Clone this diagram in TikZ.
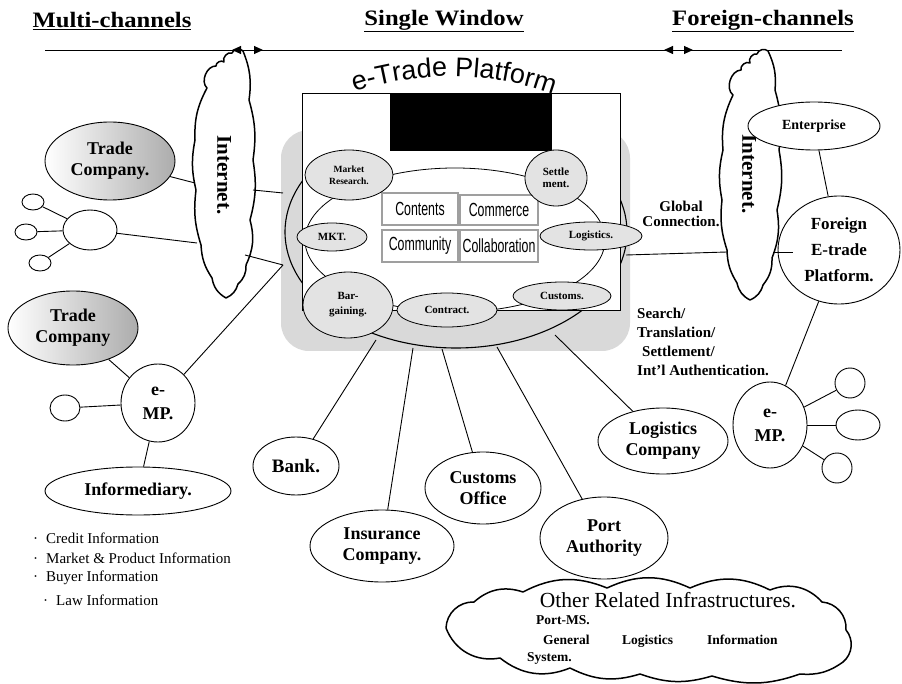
\documentclass[tikz,border=0pt]{standalone}
\usepackage{fontspec}
\usepackage{graphicx}
\setmainfont{Liberation Serif}
\newfontfamily\arialf{Liberation Sans}
\usetikzlibrary{shapes.geometric,arrows.meta,decorations.text}
\begin{document}
\begin{tikzpicture}[x=1pt,y=-1pt,
  oval/.style={draw, ellipse, line width=0.9pt, inner sep=0pt, fill=white, align=center, font=\bfseries\fontsize{18}{21}\selectfont},
  ringov/.style={oval, fill=gray!22, line width=0.8pt, font=\bfseries\fontsize{11}{12}\selectfont},
  shadeov/.style={oval, left color=white, middle color=white, right color=gray!65},
  small/.style={draw, ellipse, line width=0.9pt, inner sep=0pt, fill=white},
  conn/.style={line width=0.9pt},
  cloudline/.style={line width=1.5pt, fill=white, line join=round},
  hdr/.style={font=\bfseries\fontsize{22}{24}\selectfont},
  cbox/.style={draw=gray!75, line width=1.2pt, inner sep=0pt, fill=white, font=\arialf\fontsize{19}{19}\selectfont},
  blist/.style={anchor=west, inner sep=0pt, font=\fontsize{15}{15}\selectfont},
  infra/.style={anchor=base west, inner sep=0pt, font=\bfseries\fontsize{13.5}{14}\selectfont},
  tip/.style={{Triangle[length=9pt,width=8pt]}-{Triangle[length=9pt,width=8pt]}},
]
\useasboundingbox (0,0) rectangle (902,684);
\fill[white] (0,0) rectangle (902,684);

% headers
\node[hdr] (h1) at (112,21) {\scalebox{1.12}[1]{\underline{Multi-channels}}};
\node[hdr] (h2) at (444,21) {\scalebox{1.12}[1]{\underline{Single Window}}};
\node[hdr] (h3) at (763,21) {\scalebox{1.12}[1]{\underline{Foreign-channels}}};

% top line
\coordinate (tl) at (45,50);
\coordinate (tr) at (842,50);
\draw[conn] (tl) -- (tr);

% left Internet cloud
\draw[cloudline] (207,88) to[bend left=70] (216,66) to[bend left=70] (224,62) to[bend left=70] (232,53) to[bend left=60] (243,51) to[bend left=15] (249,100) to[bend left=12] (253,160) to[bend left=12] (250,220) to[bend left=20] (246,265) to[bend left=25] (238,284) to[bend left=25] (226,298) to[bend left=25] (212,278) to[bend left=15] (201,245) to[bend left=12] (196,190) to[bend left=12] (195,140) to[bend left=15] (207,88) -- cycle;
\node[rotate=-90, font=\bfseries\fontsize{21}{21}\selectfont] (inet1) at (224,175) {Internet.};

% right Internet cloud
\draw[cloudline] (733,95) to[bend left=70] (741,70) to[bend left=70] (750,63) to[bend left=70] (757,54) to[bend left=60] (768,51) to[bend left=15] (775,90) to[bend left=12] (779,150) to[bend left=12] (777,210) to[bend left=15] (772,258) to[bend left=20] (763,285) to[bend left=25] (750,300) to[bend left=25] (737,283) to[bend left=15] (727,250) to[bend left=12] (722,200) to[bend left=12] (723,150) to[bend left=15] (733,95) -- cycle;
\node[rotate=-90, font=\bfseries\fontsize{21}{21}\selectfont] (inet2) at (749,174) {Internet.};

% arrowheads on the top line
\coordinate (a1) at (232,50); \coordinate (a2) at (263,50);
\coordinate (a3) at (664,50); \coordinate (a4) at (693,50);
\draw[conn, tip] (a1) -- (a2);
\draw[conn, tip] (a3) -- (a4);

% e-Trade platform
\fill[gray!30, rounded corners=28] (281,130) rectangle (630,351);
\draw[line width=1.1pt] (456,232) ellipse [x radius=171, y radius=116];
\node[draw, line width=0.8pt, fill=white, anchor=north west, minimum width=318, minimum height=217, inner sep=0pt] (plat) at (302,93) {};
\fill (390,93) rectangle (552,151);
\draw[line width=0.8pt] (455,240) ellipse [x radius=150, y radius=72];
\path[decorate, decoration={text along path, text align=center, text={|\arialf\fontsize{27}{27}\selectfont|e-Trade Platform}}] (331,100) .. controls (410,68) and (500,68) .. (576,104);

\node[cbox, minimum width=76, minimum height=32] (cnt) at (420,209) {\scalebox{0.65}[1]{Contents}};
\node[cbox, minimum width=78, minimum height=30] (cmm) at (499,210) {\scalebox{0.65}[1]{Commerce}};
\node[cbox, minimum width=76, minimum height=32] (cmy) at (420,246) {\scalebox{0.65}[1]{Community}};
\node[cbox, minimum width=78, minimum height=32] (col) at (499,246) {\scalebox{0.65}[1]{Collaboration}};

\node[ringov, minimum width=88, minimum height=50, font=\bfseries\fontsize{9.5}{12}\selectfont] (mr) at (349,175) {Market\\Research.};
\node[ringov, minimum width=62, minimum height=56] (st) at (556,178) {Settle\\ment.};
\node[ringov, minimum width=70, minimum height=28] (mkt) at (332,237) {MKT.};
\node[ringov, minimum width=102, minimum height=28] (lg) at (591,236) {Logistics.};
\node[ringov, minimum width=90, minimum height=66, font=\bfseries\fontsize{11}{15}\selectfont] (bg) at (348,305) {Bar-\\gaining.};
\node[ringov, minimum width=100, minimum height=34] (ct) at (447,310) {Contract.};
\node[ringov, minimum width=98, minimum height=28] (cs) at (562,296) {Customs.};

% left side
\node[shadeov, minimum width=130, minimum height=78] (tc1) at (110,161) {Trade\\Company.};
\node[small, minimum width=54, minimum height=40] (hub) at (90,230) {};
\node[small, minimum width=22, minimum height=16] (s1) at (33,202) {};
\node[small, minimum width=22, minimum height=16] (s2) at (26,232) {};
\node[small, minimum width=22, minimum height=16] (s3) at (40,263) {};
\node[shadeov, minimum width=130, minimum height=74] (tc2) at (73,328) {Trade\\Company};
\node[oval, minimum width=74, minimum height=78, font=\bfseries\fontsize{18}{24}\selectfont] (emp1) at (158,403) {e-\\MP.};
\node[small, minimum width=30, minimum height=26] (s4) at (65,408) {};
\node[oval, minimum width=186, minimum height=48] (info) at (138,491) {Informediary.};

\node[blist] (l1) at (33,538) {·\hspace{8pt}Credit Information};
\node[blist] (l2) at (33,558) {·\hspace{8pt}Market \& Product Information};
\node[blist] (l3) at (33,578) {·\hspace{8pt}Buyer Information};
\node[blist] (l4) at (43,600) {·\hspace{8pt}Law Information};

% right side
\node[oval, font=\bfseries\fontsize{14}{16}\selectfont, minimum width=132, minimum height=48] (ent) at (814,126) {Enterprise};
\node[oval, font=\bfseries\fontsize{17}{26}\selectfont, minimum width=122, minimum height=108] (fep) at (839,250) {Foreign\\E-trade\\Platform.};
\node[oval, minimum width=74, minimum height=86, font=\bfseries\fontsize{18}{24}\selectfont] (emp2) at (770,425) {e-\\MP.};
\node[small, minimum width=30, minimum height=30] (r1) at (850,383) {};
\node[small, minimum width=44, minimum height=30] (r2) at (858,425) {};
\node[small, minimum width=30, minimum height=30] (r3) at (837,468) {};

\node[font=\bfseries\fontsize{15}{15}\selectfont, align=center, inner sep=0pt] (gc) at (681,214) {Global\\Connection.};
\node[anchor=north west, align=left, inner sep=0pt, font=\bfseries\fontsize{15}{19}\selectfont] (srch) at (637,308) {Search/\\Translation/\\\hspace*{5pt}Settlement/\\Int'l Authentication.};

% other infrastructures cloud (drawn before the bottom ovals)
\draw[cloudline] (446,628) to[bend left=45] (474,602) to[bend left=30] (523,592) to[bend left=25] (607,588) to[bend left=25] (690,588) to[bend left=25] (770,590) to[bend left=35] (822,602) to[bend left=45] (846,630) to[bend left=45] (843,662) to[bend left=20] (800,674) to[bend left=18] (712,676) to[bend left=18] (640,674) to[bend left=22] (570,668) to[bend left=30] (500,658) to[bend left=40] (446,628) -- cycle;
\node[font=\fontsize{21.5}{21.5}\selectfont, inner sep=0pt, anchor=base] (ori) at (668,607) {Other Related Infrastructures.};
\node[infra] (pms) at (536,624) {Port-MS.};
\node[infra] (gen) at (543,644) {General};
\node[infra] (lgs) at (622,644) {Logistics};
\node[infra] (inf) at (707,644) {Information};
\node[infra] (sys) at (527,661) {System.};

% bottom
\node[oval, minimum width=86, minimum height=58, font=\bfseries\fontsize{19}{21}\selectfont] (bank) at (296,466) {Bank.};
\node[oval, minimum width=144, minimum height=72] (ins) at (382,546) {Insurance\\Company.};
\node[oval, minimum width=116, minimum height=72] (cus) at (483,488) {Customs\\Office};
\node[oval, minimum width=128, minimum height=82] (port) at (604,538) {Port\\Authority};
\node[oval, minimum width=130, minimum height=66] (logc) at (663,441) {Logistics\\Company};

% connectors
\coordinate (ci1) at (195,183);
\coordinate (ci2) at (197,243);
\coordinate (p1a) at (253,190); \coordinate (p1b) at (283,193);
\coordinate (p2a) at (245,255); \coordinate (p2b) at (283,265);
\coordinate (g1) at (626,255); \coordinate (g2) at (727,252);
\coordinate (f1) at (773,252); \coordinate (f2) at (793,252);
\coordinate (b1) at (376,340);
\coordinate (b2) at (413,348);
\coordinate (b3) at (442,349);
\coordinate (b4) at (497,347);
\coordinate (b5) at (555,335);

\draw[conn] (tc1) -- (ci1);
\draw[conn] (hub) -- (ci2);
\draw[conn] (hub) -- (s1);
\draw[conn] (hub) -- (s2);
\draw[conn] (hub) -- (s3);
\draw[conn] (p1a) -- (p1b);
\draw[conn] (p2a) -- (p2b);
\draw[conn] (p2b) -- (emp1);
\draw[conn] (tc2) -- (emp1);
\draw[conn] (s4) -- (emp1);
\draw[conn] (emp1) -- (info);
\draw[conn] (ent) -- (fep);
\draw[conn] (fep) -- (emp2);
\draw[conn] (emp2) -- (r1);
\draw[conn] (emp2) -- (r2);
\draw[conn] (emp2) -- (r3);
\draw[conn] (g1) -- (g2);
\draw[conn] (f1) -- (f2);
\draw[conn] (b1) -- (bank);
\draw[conn] (b2) -- (ins);
\draw[conn] (b3) -- (cus);
\draw[conn] (b4) -- (port);
\draw[conn] (b5) -- (logc);
\end{tikzpicture}
\end{document}
